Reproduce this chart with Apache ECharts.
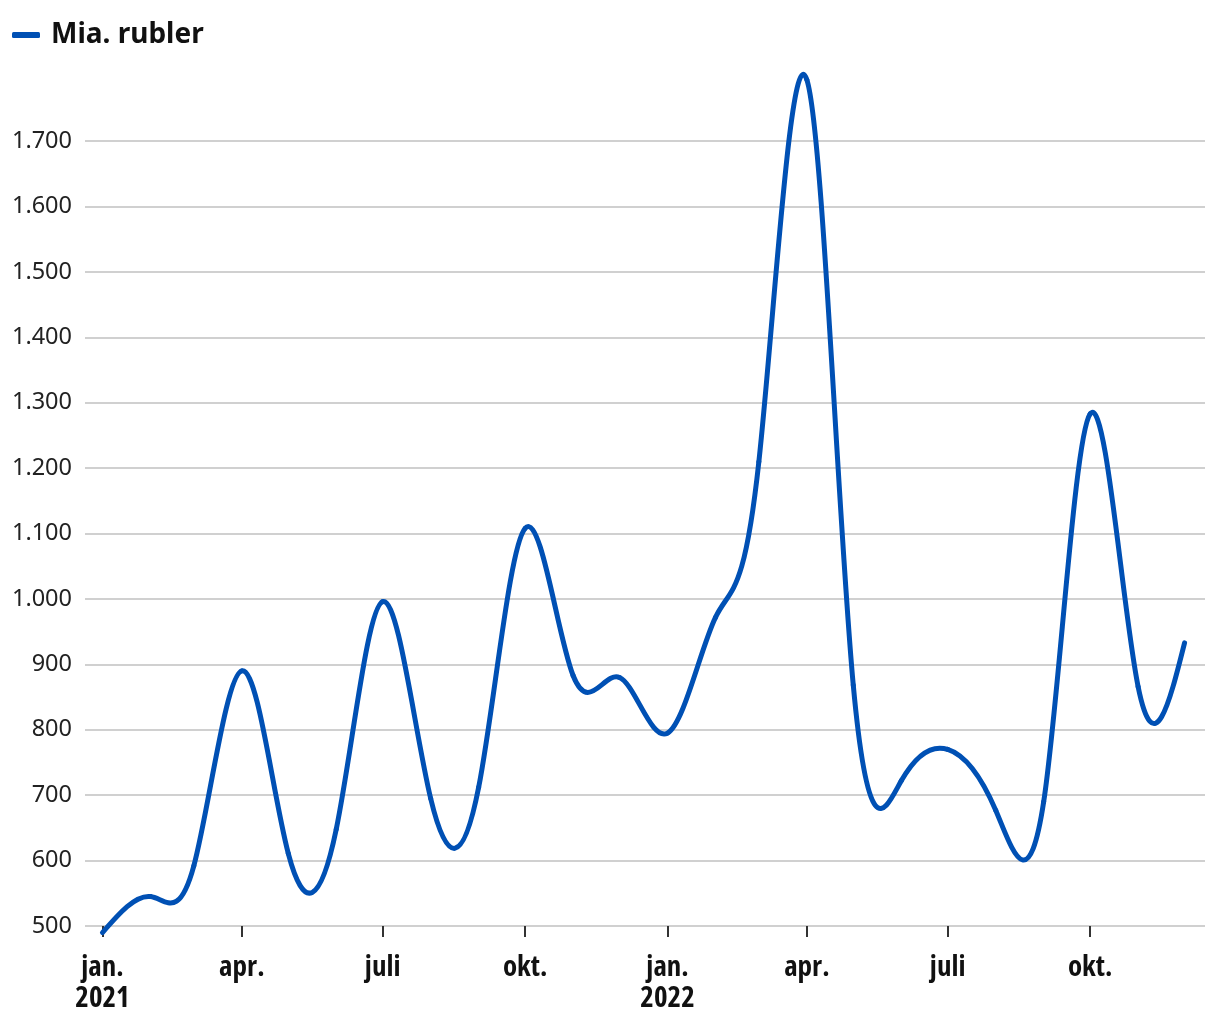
<!DOCTYPE html>
<html>
<head>
<meta charset="utf-8">
<script src="https://cdn.jsdelivr.net/npm/echarts@6/dist/echarts.min.js"></script>
<style>
html,body{margin:0;padding:0;background:#fff;}
#chart{width:1220px;height:1020px;}
</style>
</head>
<body>
<div id="chart"></div>
<script>
// ---- data ----
const seriesName = 'Mia. rubler';
const months = ['2021-01-01','2021-02-01','2021-03-01','2021-04-01','2021-05-01','2021-06-01',
                '2021-07-01','2021-08-01','2021-09-01','2021-10-01','2021-11-01','2021-12-01',
                '2022-01-01','2022-02-01','2022-03-01','2022-04-01','2022-05-01','2022-06-01',
                '2022-07-01','2022-08-01','2022-09-01','2022-10-01','2022-11-01','2022-12-01'];
const values = [490, 545, 592, 890, 611, 648, 996, 695, 712, 1108, 883, 880,
                795, 972, 1210, 1794, 868, 722, 770, 677, 690, 1283, 866, 933];
const xTickDates = ['2021-01-01','2021-04-01','2021-07-01','2021-10-01',
                    '2022-01-01','2022-04-01','2022-07-01','2022-10-01'];
const xTickLabels = ['jan.\n2021','apr.','juli','okt.','jan.\n2022','apr.','juli','okt.'];

// ---- helpers ----
const DAY = 86400000;
function ts(s){ const p = s.split('-').map(Number); return Date.UTC(p[0], p[1]-1, p[2]); }
const origin = ts(months[0]);
function dayOf(s){ return (ts(s) - origin) / DAY; }   // days since 2021-01-01
const tickDays = xTickDates.map(dayOf);
function fmtNum(v){
  if (v >= 1000){ const r = v % 1000; return Math.floor(v/1000) + '.' + String(r).padStart(3,'0'); }
  return String(v);
}
// natural cubic spline control points (same scheme as d3.curveNatural)
function controlPoints(x){
  const n = x.length - 1, a = new Array(n), b = new Array(n), r = new Array(n);
  let i, m;
  a[0] = 0; b[0] = 2; r[0] = x[0] + 2 * x[1];
  for (i = 1; i < n - 1; ++i){ a[i] = 1; b[i] = 4; r[i] = 4 * x[i] + 2 * x[i + 1]; }
  a[n - 1] = 2; b[n - 1] = 7; r[n - 1] = 8 * x[n - 1] + x[n];
  for (i = 1; i < n; ++i){ m = a[i] / b[i - 1]; b[i] -= m; r[i] -= m * r[i - 1]; }
  a[n - 1] = r[n - 1] / b[n - 1];
  for (i = n - 2; i >= 0; --i) a[i] = (r[i] - a[i + 1]) / b[i];
  b[n - 1] = (x[n] + a[n - 1]) / 2;
  for (i = 0; i < n - 1; ++i) b[i] = 2 * x[i + 1] - a[i + 1];
  return [a, b];
}

const lineColor = '#0050b4';
const chart = echarts.init(document.getElementById('chart'), null, {renderer:'canvas'});
chart.setOption({
  animation: false,
  backgroundColor: '#ffffff',
  legend: {
    show: true,
    left: 12, top: 21, padding: 0,
    icon: 'roundRect',
    itemWidth: 28, itemHeight: 6,
    textStyle: {
      fontFamily: "'Noto Sans', 'Open Sans', sans-serif",
      fontWeight: 'bold', fontSize: 28, color: '#111111',
      padding: [0,0,0,6]
    },
    data: [{ name: seriesName, itemStyle: { color: lineColor } }]
  },
  grid: { left: 85, right: 15, top: 75.8, bottom: 94, containLabel: false },
  xAxis: {
    type: 'value',
    min: -11.3,
    max: 712.2,
    axisLine: { show: false },
    splitLine: { show: false },
    axisTick: {
      show: true, length: 11, customValues: tickDays,
      lineStyle: { color: '#333333', width: 2 }
    },
    axisLabel: {
      show: true, customValues: tickDays, margin: 26,
      fontFamily: "'Open Sans', 'Noto Sans', sans-serif",
      fontWeight: 'bold condensed', fontSize: 29, lineHeight: 31, color: '#111111',
      hideOverlap: false,
      formatter: function(v){
        let best = 0, bd = Infinity;
        tickDays.forEach((t,i)=>{ const d = Math.abs(t - v); if (d < bd){ bd = d; best = i; } });
        return xTickLabels[best];
      }
    }
  },
  yAxis: {
    type: 'value',
    min: 500, max: 1800, interval: 100,
    axisLine: { show: false },
    axisTick: { show: false },
    splitLine: {
      show: true, showMaxLine: false,
      lineStyle: { color: '#c0c0c0', width: 1.5 }
    },
    axisLabel: {
      show: true, showMaxLabel: false, margin: 13,
      fontFamily: "'Noto Sans', 'Open Sans', sans-serif",
      fontSize: 23.5, color: '#222222',
      formatter: function(v){ return fmtNum(v); }
    }
  },
  series: [{
    name: seriesName,
    type: 'custom',
    color: lineColor,
    itemStyle: { color: lineColor },
    clip: false,
    data: months.map((m,i)=>[dayOf(m), values[i]]),
    encode: { x: 0, y: 1 },
    renderItem: function(params, api){
      if (params.dataIndex !== 0) return null;
      const pts = months.map((m,i)=>api.coord([dayOf(m), values[i]]));
      const xs = pts.map(p=>p[0]), ys = pts.map(p=>p[1]);
      const px = controlPoints(xs), py = controlPoints(ys);
      const children = [];
      for (let i = 0; i < pts.length - 1; i++){
        children.push({
          type: 'bezierCurve',
          shape: {
            x1: xs[i], y1: ys[i], x2: xs[i+1], y2: ys[i+1],
            cpx1: px[0][i], cpy1: py[0][i], cpx2: px[1][i], cpy2: py[1][i]
          },
          style: { fill: null, stroke: lineColor, lineWidth: 5, lineCap: 'round', lineJoin: 'round' }
        });
      }
      return { type: 'group', children: children };
    }
  }]
});
</script>
</body>
</html>
